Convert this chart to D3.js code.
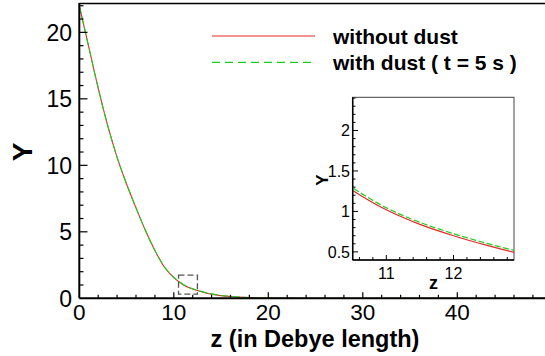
<!DOCTYPE html>
<html><head><meta charset="utf-8">
<script src="https://cdn.jsdelivr.net/npm/d3@7"></script>
<style>
html,body{margin:0;padding:0;background:#fff;}
svg{display:block;font-family:"Liberation Sans",Arial,sans-serif;}
</style></head>
<body><svg id="c" width="545" height="356"></svg>
<script>
// ---- data ----
const zVals     = [0,1,2,3,4,5,6,7,8,9,10,10.5,11,11.5,12,12.5,13,14,15,16,18,20,25,30,40,50];
const yNoDust   = [22,18.9,15.8,13.0,10.6,8.6,6.8,5.1,3.6,2.35,1.55,1.26,1.02,0.84,0.70,0.58,0.475,0.31,0.20,0.13,0.05,0.02,0.005,0,0,0];
const yWithDust = [22,18.9,15.8,13.0,10.6,8.6,6.8,5.1,3.6,2.37,1.58,1.29,1.045,0.865,0.725,0.605,0.50,0.33,0.21,0.14,0.05,0.02,0.005,0,0,0];
const seriesNames = ["without dust","with dust ( t = 5 s )"];
const seriesColors = ["#e8262a","#19d019"];
const xMajorTicks = [0,10,20,30,40];
const yMajorTicks = [0,5,10,15,20];
const insetXTicks = [11,12];
const insetYTicks = [0.5,1,1.5,2];
const insetYLabels = ["0.5","1","1.5","2"];
const zoomBoxZ = [10.5,12.5];
const zoomBoxY = [0.32,1.75];

const svg = d3.select("#c");
const x = d3.scaleLinear().domain([0,50]).range([79.3,551.8]);
const y = d3.scaleLinear().domain([0,22.2]).range([298.3,3.1]);

const defs = svg.append("defs");
defs.append("clipPath").attr("id","mainClip").append("rect")
  .attr("x",79.3).attr("y",3.1).attr("width",470).attr("height",295.2);

const dataNo = zVals.map((z,i)=>[z,yNoDust[i]]);
const dataWith = zVals.map((z,i)=>[z,yWithDust[i]]);

const line = d3.line().x(d=>x(d[0])).y(d=>y(d[1])).curve(d3.curveMonotoneX);
const gMain = svg.append("g").attr("clip-path","url(#mainClip)");
gMain.append("path").attr("d",line(dataNo)).attr("fill","none").attr("stroke",seriesColors[0]).attr("stroke-width",1.1);
gMain.append("path").attr("d",line(dataWith)).attr("fill","none").attr("stroke",seriesColors[1]).attr("stroke-width",1.1).attr("stroke-dasharray","8,3");

// zoom box
svg.append("rect").attr("x",x(zoomBoxZ[0])).attr("y",y(zoomBoxY[1]))
  .attr("width",x(zoomBoxZ[1])-x(zoomBoxZ[0])).attr("height",y(zoomBoxY[0])-y(zoomBoxY[1]))
  .attr("fill","none").attr("stroke","#555").attr("stroke-width",1.3).attr("stroke-dasharray","6,3");

// axes main
const gx = svg.append("g").attr("transform","translate(0,298.3)");
gx.append("line").attr("x1",79.3).attr("x2",545).attr("y1",0).attr("y2",0).attr("stroke","#000").attr("stroke-width",2);
gx.selectAll("line.t").data(d3.range(2,51,2)).enter().append("line")
  .attr("x1",d=>x(d)).attr("x2",d=>x(d)).attr("y1",0).attr("y2",d=>d%10===0?-6:-3.5)
  .attr("stroke","#000").attr("stroke-width",1.2);
gx.selectAll("text").data(xMajorTicks).enter().append("text")
  .attr("x",d=>x(d)).attr("y",22).attr("text-anchor","middle")
  .attr("font-size",22.5).text(d=>d);

const gy = svg.append("g");
gy.append("line").attr("x1",79.3).attr("x2",79.3).attr("y1",3.1).attr("y2",298.3).attr("stroke","#000").attr("stroke-width",2);
gy.selectAll("line.t").data(d3.range(1,23,1)).enter().append("line")
  .attr("x1",79.3).attr("x2",d=>d%5===0?87.5:83.5).attr("y1",d=>y(d)).attr("y2",d=>y(d))
  .attr("stroke","#000").attr("stroke-width",1.2);
gy.selectAll("text").data(yMajorTicks).enter().append("text")
  .attr("x",72).attr("y",d=>y(d)+8.3).attr("text-anchor","end")
  .attr("font-size",23).text(d=>d);
// top border
svg.append("line").attr("x1",79.3).attr("x2",545).attr("y1",3.6).attr("y2",3.6).attr("stroke","#000").attr("stroke-width",1.5);

// axis titles
svg.append("text").attr("x",315).attr("y",346.5).attr("text-anchor","middle")
  .attr("font-size",23.5).attr("font-weight","bold").text("z (in Debye length)");
svg.append("text").attr("transform","translate(32,152) rotate(-90)").attr("text-anchor","middle")
  .attr("font-size",28).attr("font-weight","bold").text("Y");

// legend
const leg = svg.append("g");
[36,62.3].forEach((ly,i)=>{
  leg.append("line").attr("x1",212).attr("x2",315).attr("y1",ly).attr("y2",ly)
    .attr("stroke",seriesColors[i]).attr("stroke-width",1.2)
    .attr("stroke-dasharray",i===1?"8,5":null);
  leg.append("text").attr("x",333).attr("y",ly+7.5).attr("font-size",21).attr("font-weight","bold").text(seriesNames[i]);
});

// ---- inset ----
const ix = d3.scaleLinear().domain([10.5,12.9]).range([352.7,514]);
const iy = d3.scaleLinear().domain([0.4,2.41]).range([260,97.3]);
defs.append("clipPath").attr("id","insClip").append("rect")
  .attr("x",352.7).attr("y",97.3).attr("width",514-352.7).attr("height",260-97.3);
svg.append("rect").attr("x",352.7).attr("y",97.3).attr("width",514-352.7).attr("height",260-97.3)
  .attr("fill","#fff").attr("stroke","#444").attr("stroke-width",1);
const iline = d3.line().x(d=>ix(d[0])).y(d=>iy(d[1])).curve(d3.curveCatmullRom.alpha(0.5));
const gIn = svg.append("g").attr("clip-path","url(#insClip)");
gIn.append("path").attr("d",iline(dataNo)).attr("fill","none").attr("stroke",seriesColors[0]).attr("stroke-width",1.2);
gIn.append("path").attr("d",iline(dataWith)).attr("fill","none").attr("stroke",seriesColors[1]).attr("stroke-width",1.2).attr("stroke-dasharray","6,2.5");
// inset axes lines
svg.append("line").attr("x1",352.7).attr("x2",352.7).attr("y1",97.3).attr("y2",260).attr("stroke","#000").attr("stroke-width",1.5);
svg.append("line").attr("x1",352.7).attr("x2",514).attr("y1",260).attr("y2",260).attr("stroke","#000").attr("stroke-width",1.5);
const ixt = d3.range(10.6,12.95,0.2).map(v=>+v.toFixed(1));
svg.selectAll("line.ixt").data(ixt).enter().append("line")
  .attr("x1",d=>ix(d)).attr("x2",d=>ix(d)).attr("y1",260).attr("y2",d=>insetXTicks.includes(d)?255:257)
  .attr("stroke","#000").attr("stroke-width",1);
const iyt = d3.range(0.5,2.41,0.1).map(v=>+v.toFixed(1));
svg.selectAll("line.iyt").data(iyt).enter().append("line")
  .attr("x1",352.7).attr("x2",d=>insetYTicks.includes(d)?358:355.5).attr("y1",d=>iy(d)).attr("y2",d=>iy(d))
  .attr("stroke","#000").attr("stroke-width",1);
svg.selectAll("text.ixl").data(insetXTicks).enter().append("text")
  .attr("x",d=>ix(d)).attr("y",278.5).attr("text-anchor","middle").attr("font-size",16).text(d=>d);
svg.selectAll("text.iyl").data(insetYTicks).enter().append("text")
  .attr("x",350).attr("y",d=>iy(d)+6).attr("text-anchor","end").attr("font-size",16).text((d,i)=>insetYLabels[i]);
svg.append("text").attr("x",433.5).attr("y",289).attr("text-anchor","middle").attr("font-size",18).attr("font-weight","bold").text("z");
svg.append("text").attr("transform","translate(327.5,180) rotate(-90)").attr("text-anchor","middle").attr("font-size",17).attr("font-weight","bold").text("Y");
</script></body></html>
